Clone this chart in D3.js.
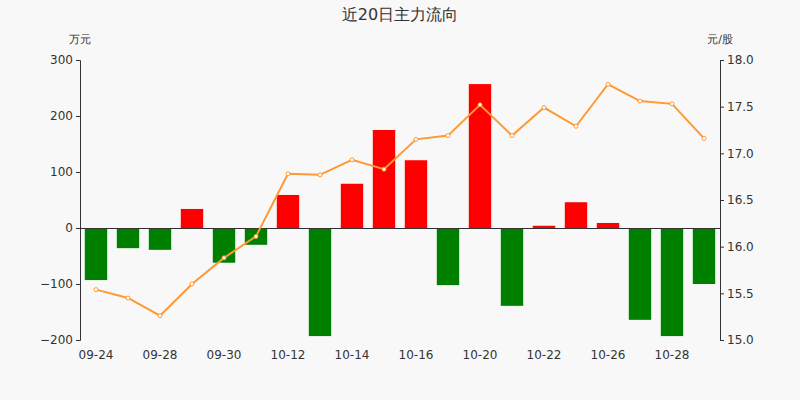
<!DOCTYPE html>
<html><head><meta charset="utf-8">
<script src="https://cdn.jsdelivr.net/npm/d3@7"></script>
<style>body{margin:0;background:#f8f8f8;font-family:"DejaVu Sans",sans-serif}</style>
</head><body><svg id="c" width="800" height="400"></svg>
<script>
const dates = ["09-24","09-25","09-28","09-29","09-30","10-09","10-12","10-13","10-14","10-15","10-16","10-19","10-20","10-21","10-22","10-23","10-26","10-27","10-28","10-29"];
const flows = [-93,-36,-39,34,-62,-30,59,-193,79,175,121,-102,257,-139,4,46,9,-164,-193,-100];
const prices = [15.54,15.45,15.26,15.60,15.88,16.11,16.78,16.77,16.93,16.83,17.15,17.19,17.52,17.19,17.49,17.29,17.74,17.56,17.53,17.16];

const svg = d3.select("#c");
svg.append("rect").attr("width",800).attr("height",400).attr("fill","#f8f8f8");
const mLeft = 80, mRight = 720, mTop = 60, mBottom = 340;

const x = d3.scaleBand().domain(dates).range([mLeft, mRight]).paddingInner(0.3).paddingOuter(0.15);
const y = d3.scaleLinear().domain([-200, 300]).range([mBottom, mTop]);
const y2 = d3.scaleLinear().domain([15, 18]).range([mBottom, mTop]);

svg.append("text").attr("x",400).attr("y",20).attr("text-anchor","middle")
  .attr("font-size",16).attr("fill","#333").text("近20日主力流向");
svg.append("text").attr("x",80).attr("y",43).attr("text-anchor","middle").attr("font-size",11).attr("fill","#333").text("万元");
svg.append("text").attr("x",720).attr("y",43).attr("text-anchor","middle").attr("font-size",11).attr("fill","#333").text("元/股");

svg.selectAll("rect.bar").data(flows).join("rect").attr("class","bar")
  .attr("x",(d,i)=>x(dates[i])).attr("width",x.bandwidth())
  .attr("y",d=>y(Math.max(0,d))).attr("height",d=>Math.abs(y(d)-y(0)))
  .attr("fill",d=>d>=0?"#ff0000":"#008000");

const yAx = svg.append("g").attr("transform",`translate(${mLeft},0)`)
  .call(d3.axisLeft(y).tickValues([-200,-100,0,100,200,300]).tickSize(4));
const y2Ax = svg.append("g").attr("transform",`translate(${mRight},0)`)
  .call(d3.axisRight(y2).tickValues([15,15.5,16,16.5,17,17.5,18]).tickSize(4));
const xAx = svg.append("g").attr("transform",`translate(0,${y(0)})`)
  .call(d3.axisBottom(x).tickValues([]).tickSizeOuter(0));
[yAx,y2Ax,xAx].forEach(g=>{g.selectAll("path,line").attr("stroke","#333");
  g.selectAll("text").attr("font-size",12).attr("fill","#333").attr("font-family","DejaVu Sans");});
const labels = dates.filter((d,i)=>i%2===0);
svg.selectAll("text.xl").data(labels).join("text").attr("class","xl")
  .attr("x",d=>x(d)+x.bandwidth()/2).attr("y",mBottom+19).attr("text-anchor","middle")
  .attr("font-size",12).attr("fill","#333").text(d=>d);

const line = d3.line().x((d,i)=>x(dates[i])+x.bandwidth()/2).y(d=>y2(d));
svg.append("path").datum(prices).attr("d",line).attr("fill","none").attr("stroke","#ff9933").attr("stroke-width",2);
svg.selectAll("circle").data(prices).join("circle")
  .attr("cx",(d,i)=>x(dates[i])+x.bandwidth()/2).attr("cy",d=>y2(d)).attr("r",2)
  .attr("fill","#fff").attr("stroke","#ff9933");
</script></body></html>
